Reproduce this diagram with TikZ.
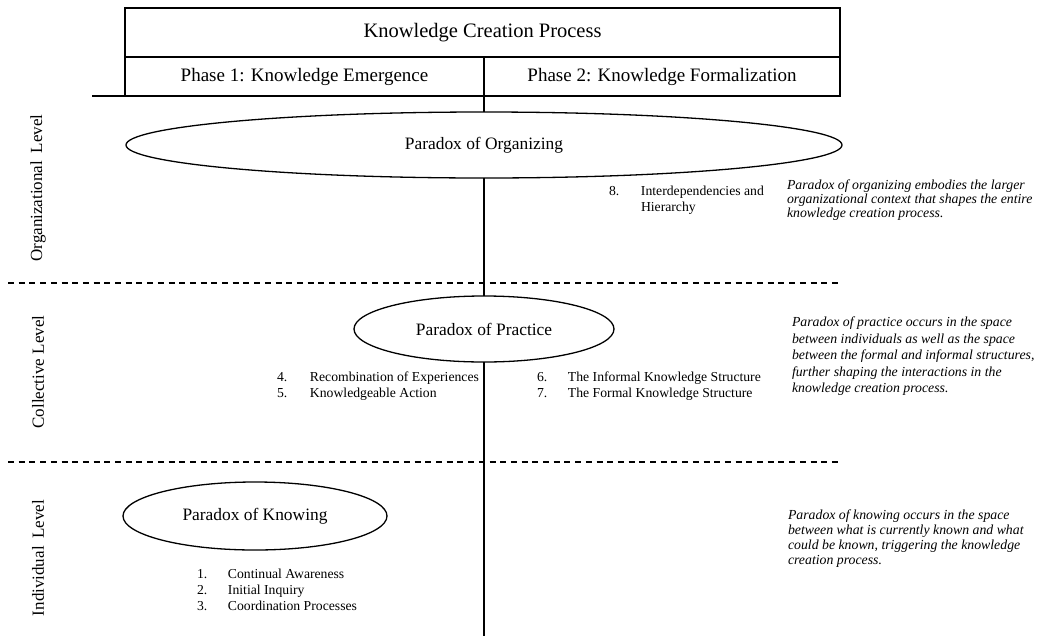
\documentclass[tikz,border=0pt]{standalone}
\usepackage{fontspec}
\setmainfont{Liberation Serif}
\usetikzlibrary{shapes.geometric}
\begin{document}
\begin{tikzpicture}[x=1pt,y=-1pt,
  every node/.style={inner sep=0pt, outer sep=0pt},
  cell/.style={draw, line width=1.3pt, rectangle},
  paradox/.style={draw, line width=1.3pt, ellipse, fill=white, font=\fontsize{17.4}{20}\selectfont},
  lvl/.style={rotate=90, font=\fontsize{17}{20}\selectfont},
  item/.style={anchor=north west, align=left, font=\fontsize{13.7}{15.5}\selectfont},
  note/.style={anchor=north west, align=left},
  conn/.style={line width=1.3pt},
  sep/.style={line width=1.5pt, dash pattern=on 6pt off 4.7pt}]
\path[use as bounding box] (0,0) rectangle (1041,643);
% header
\node[cell, minimum width=715pt, minimum height=49pt, font=\fontsize{20.5}{24}\selectfont] (title) at (482.5,32.5) {Knowledge Creation Process};
\node[cell, minimum width=359pt, minimum height=39pt, font=\fontsize{19}{22}\selectfont] (ph1) at (304.5,76.5) {Phase 1: Knowledge Emergence};
\node[cell, minimum width=356pt, minimum height=39pt, font=\fontsize{19}{22}\selectfont] (ph2) at (662,76.5) {Phase 2: Knowledge Formalization};
\coordinate (hl) at (92,96);
\draw[conn] (hl) -- (ph1.south west);
% separators
\coordinate (d1a) at (8,283);
\coordinate (d1b) at (838,283);
\coordinate (d2a) at (8,462);
\coordinate (d2b) at (838,462);
\draw[sep] (d1a) -- (d1b);
\draw[sep] (d2a) -- (d2b);
% paradox ellipses
\node[paradox, minimum width=716pt, minimum height=66pt] (org) at (484,145) {Paradox of Organizing};
\node[paradox, minimum width=260pt, minimum height=66pt] (prac) at (484,329) {Paradox of Practice};
\node[paradox, minimum width=264pt, minimum height=68pt] (know) at (255,516) {Paradox of Knowing};
% vertical connector
\coordinate (vend) at (484,636);
\draw[conn] (ph1.south east) -- (org.north);
\draw[conn] (org.south) -- (prac.north);
\draw[conn] (prac.south) -- (vend);
% level labels
\node[lvl] (lorg) at (38,188) {Organizational\hspace{0.45em}Level};
\node[lvl] (lcol) at (38,372) {Collective Level};
\node[lvl] (lind) at (38,558) {Individual\hspace{0.45em}Level};
% items
\node[item] (i8) at (609,186) {\makebox[32pt][l]{8.}Interdependencies and\\\hspace*{32pt}Hierarchy};
\node[item] (i45) at (277,372) {\makebox[33pt][l]{4.}Recombination of Experiences\\\makebox[33pt][l]{5.}Knowledgeable Action};
\node[item] (i67) at (537,372) {\makebox[31pt][l]{6.}The Informal Knowledge Structure\\\makebox[31pt][l]{7.}The Formal Knowledge Structure};
\node[item, font=\fontsize{13.7}{16}\selectfont] (i13) at (197,569) {\makebox[31pt][l]{1.}Continual Awareness\\\makebox[31pt][l]{2.}Initial Inquiry\\\makebox[31pt][l]{3.}Coordination Processes};
% notes
\node[note, font=\fontsize{13.8}{14}\selectfont\itshape] (n1) at (787,180) {Paradox of organizing embodies the larger\\organizational context that shapes the entire\\knowledge creation process.};
\node[note, font=\fontsize{13.8}{16.5}\selectfont\itshape] (n2) at (792,317) {Paradox of practice occurs in the space\\between individuals as well as the space\\between the formal and informal structures,\\further shaping the interactions in the\\knowledge creation process.};
\node[note, font=\fontsize{13.8}{15}\selectfont\itshape] (n3) at (788,510) {Paradox of knowing occurs in the space\\between what is currently known and what\\could be known, triggering the knowledge\\creation process.};
\end{tikzpicture}
\end{document}
